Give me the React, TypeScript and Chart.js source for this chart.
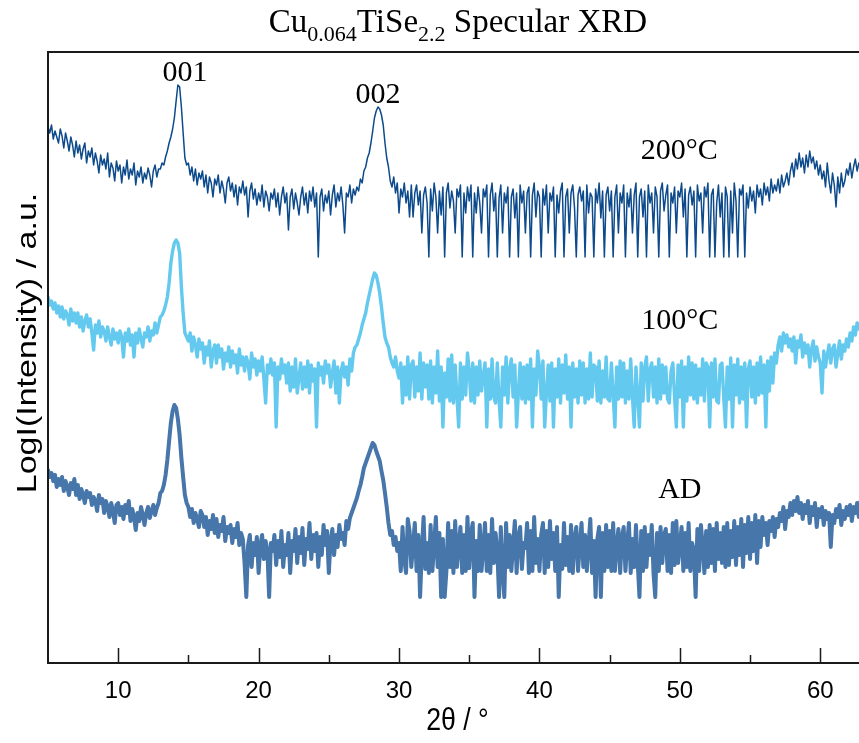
import React, { useEffect, useRef } from 'react';
import { Chart, registerables } from 'chart.js';

Chart.register(...registerables);

// 2θ sampling: start and step (degrees); 8 samples per degree, 5.000 → 62.875
const X_START = 5;
const X_STEP = 0.125;

// Tick labels on the 2θ axis
const xTickValues = [10, 20, 30, 40, 50, 60];
const xMinorTickValues = [15, 25, 35, 45, 55];

// Series names / peak indices
const seriesNames = ['200°C', '100°C', 'AD'];
const peakLabels = ['001', '002'];

// Log(intensity), arbitrary units, offset-stacked as displayed. One row per degree (5°, 6°, ... 62°).
const series200C = [
  536, 530, 538, 524, 532, 526, 520, 534,
  527, 515, 530, 522, 512, 526, 518, 506,
  522, 510, 518, 504, 514, 520, 500, 512,
  506, 515, 498, 510, 502, 490, 508, 498,
  504, 494, 510, 486, 500, 495, 482, 502,
  492, 498, 480, 496, 488, 503, 484, 494,
  488, 500, 478, 492, 486, 496, 480, 490,
  484, 495, 488, 476, 492, 498, 486, 494,
  494, 500, 498, 506, 512, 520, 526, 534,
  545, 562, 578, 576, 556, 530, 505, 498,
  500, 488, 496, 482, 494, 478, 490, 484,
  492, 476, 488, 470, 486, 480, 466, 484,
  478, 488, 470, 482, 474, 460, 480, 486,
  472, 480, 466, 478, 458, 476, 470, 482,
  468, 476, 446, 472, 480, 464, 474, 458,
  470, 462, 478, 456, 472, 466, 452, 470,
  464, 474, 456, 470, 448, 466, 476, 460,
  470, 433, 466, 474, 454, 470, 460, 448,
  466, 476, 458, 470, 450, 472, 462, 476,
  456, 470, 406, 466, 474, 452, 468, 460,
  472, 448, 468, 478, 456, 470, 462, 476,
  458, 430, 470, 466, 478, 460, 474, 468,
  476, 472, 484, 480, 492, 496, 505, 510,
  520, 532, 545, 552, 556, 554, 548, 538,
  520, 505, 496, 482, 476, 486, 470, 480,
  450, 474, 466, 480, 460, 472, 446, 478,
  446, 470, 478, 458, 472, 430, 468, 476,
  460, 406, 474, 452, 480, 466, 430, 472,
  448, 476, 406, 470, 480, 455, 472, 462,
  430, 474, 466, 478, 406, 470, 450, 476,
  462, 478, 406, 470, 450, 476, 460, 430,
  474, 466, 478, 406, 468, 480, 452, 470,
  406, 465, 478, 430, 470, 460, 476, 406,
  466, 474, 445, 470, 406, 478, 460, 472,
  430, 470, 476, 406, 468, 480, 446, 472,
  466, 406, 474, 458, 478, 430, 470, 462,
  476, 406, 468, 450, 472, 480, 406, 466,
  474, 430, 470, 478, 455, 406, 468, 476,
  462, 472, 406, 478, 450, 470, 466, 406,
  474, 460, 480, 445, 472, 406, 468, 476,
  452, 472, 406, 466, 478, 430, 470, 460,
  478, 406, 470, 456, 474, 430, 468, 480,
  406, 466, 474, 446, 472, 406, 478, 460,
  470, 430, 476, 466, 406, 472, 480, 452,
  468, 478, 406, 470, 460, 476, 430, 472,
  466, 480, 446, 474, 406, 468, 476, 458,
  472, 406, 478, 462, 470, 430, 476, 466,
  480, 406, 468, 474, 406, 460, 478, 446,
  470, 406, 476, 466, 406, 472, 430, 480,
  462, 406, 474, 468, 478, 406, 470, 455,
  476, 462, 472, 450, 478, 466, 474, 458,
  480, 468, 476, 462, 484, 470, 478, 472,
  484, 470, 488, 476, 482, 490, 478, 492,
  500, 486, 504, 494, 510, 496, 505, 490,
  508, 496, 512, 500, 506, 494, 502, 488,
  498, 484, 492, 476, 500, 482, 470, 490,
  478, 456, 486, 470, 490, 476, 482, 494,
  488, 500, 485, 496, 504, 492, 500, 498,
];

const series100C = [
  366, 358, 362, 354, 360, 350, 357, 346,
  356, 344, 352, 348, 338, 354, 342, 350,
  340, 350, 336, 346, 332, 342, 348, 336,
  344, 330, 313, 338, 330, 342, 326, 336,
  332, 322, 336, 326, 318, 334, 324, 330,
  320, 332, 326, 306, 330, 322, 334, 318,
  328, 306, 330, 320, 334, 324, 316, 330,
  326, 336, 322, 332, 328, 340, 330, 338,
  346, 348, 352, 358, 366, 380, 400, 412,
  420, 423, 420, 410, 376, 350, 330, 326,
  322, 330, 312, 326, 318, 306, 324, 314,
  320, 300, 316, 308, 322, 296, 312, 318,
  300, 318, 306, 314, 294, 310, 302, 316,
  296, 312, 300, 308, 290, 314, 298, 306,
  292, 306, 300, 284, 310, 296, 304, 288,
  302, 292, 306, 284, 260, 298, 290, 304,
  288, 300, 236, 296, 284, 304, 290, 298,
  280, 300, 272, 296, 276, 304, 270, 286,
  300, 274, 296, 276, 302, 270, 298, 282,
  294, 236, 300, 288, 296, 280, 302, 290,
  298, 276, 290, 302, 270, 296, 260, 292,
  300, 286, 296, 278, 304, 292, 310, 316,
  318, 324, 330, 338, 344, 350, 360, 368,
  376, 384, 390, 388, 380, 370, 356, 340,
  326, 320, 316, 306, 300, 296, 306, 292,
  285, 300, 260, 296, 268, 306, 264, 298,
  302, 266, 296, 272, 310, 264, 300, 276,
  298, 264, 302, 260, 296, 270, 312, 262,
  296, 236, 290, 266, 304, 262, 308, 260,
  298, 266, 236, 300, 264, 296, 268, 310,
  292, 262, 300, 260, 296, 268, 302, 272,
  288, 300, 236, 294, 264, 304, 266, 260,
  300, 262, 236, 296, 268, 306, 260, 294,
  304, 266, 298, 236, 270, 300, 264, 296,
  260, 298, 264, 304, 236, 294, 268, 312,
  296, 264, 302, 236, 270, 298, 262, 300,
  236, 294, 266, 304, 260, 298, 270, 308,
  264, 296, 236, 300, 266, 294, 260, 302,
  268, 300, 260, 294, 264, 310, 266, 298,
  296, 262, 302, 260, 292, 266, 306, 264,
  262, 300, 268, 236, 296, 264, 302, 266,
  300, 260, 292, 264, 304, 266, 236, 296,
  268, 236, 300, 262, 296, 306, 262, 294,
  300, 266, 296, 260, 304, 264, 298, 270,
  296, 264, 260, 292, 300, 266, 236, 298,
  266, 302, 236, 296, 262, 306, 268, 300,
  264, 298, 260, 294, 268, 304, 262, 300,
  296, 236, 300, 266, 304, 262, 260, 298,
  300, 266, 236, 296, 264, 305, 236, 298,
  268, 304, 260, 296, 264, 300, 236, 294,
  302, 266, 296, 260, 300, 268, 306, 270,
  298, 236, 302, 272, 306, 280, 310, 300,
  318, 326, 312, 330, 320, 328, 316, 324,
  312, 326, 300, 322, 316, 328, 306, 320,
  310, 318, 296, 314, 322, 302, 316, 306,
  300, 270, 312, 296, 308, 318, 300, 314,
  318, 296, 310, 322, 304, 318, 312, 324,
  316, 330, 322, 336, 328, 340, 334, 342,
];

const seriesAD = [
  193, 186, 190, 182, 188, 176, 184, 178,
  186, 172, 182, 176, 168, 180, 174, 184,
  168, 178, 164, 174, 168, 160, 172, 166,
  170, 158, 166, 162, 152, 168, 160, 164,
  150, 162, 156, 146, 160, 152, 140, 158,
  160, 148, 156, 144, 158, 150, 162, 142,
  154, 146, 133, 150, 142, 156, 148, 138,
  150, 156, 145, 152, 158, 148, 155, 160,
  170, 172, 178, 188, 203, 222, 240, 252,
  258, 255, 244, 228, 205, 186, 168, 160,
  156, 146, 154, 140, 150, 144, 136, 152,
  148, 136, 146, 128, 142, 134, 148, 130,
  144, 126, 138, 132, 146, 122, 136, 130,
  138, 120, 134, 126, 140, 118, 130, 124,
  100, 66, 118, 128, 96, 120, 108, 126,
  90, 118, 128, 104, 122, 112, 66, 120,
  112, 128, 98, 122, 106, 132, 96, 118,
  108, 130, 90, 122, 112, 134, 100, 126,
  110, 135, 98, 124, 114, 140, 104, 128,
  112, 130, 96, 126, 108, 138, 118, 132,
  90, 122, 134, 108, 128, 116, 138, 124,
  130, 118, 142, 134, 145, 150, 155, 160,
  165, 172, 178, 186, 195, 200, 205, 210,
  215, 220, 218, 212, 207, 202, 192, 183,
  170, 156, 140, 128, 132, 118, 126, 112,
  120, 92, 136, 104, 90, 144, 132, 96,
  118, 140, 92, 128, 66, 112, 146, 94,
  120, 90, 138, 92, 118, 146, 96, 130,
  66, 124, 66, 92, 140, 96, 132, 90,
  142, 96, 118, 136, 90, 128, 92, 146,
  95, 130, 140, 66, 122, 92, 138, 92,
  116, 140, 92, 128, 90, 144, 100, 130,
  112, 66, 136, 92, 66, 140, 96, 128,
  92, 118, 142, 90, 126, 136, 94, 120,
  115, 140, 90, 132, 92, 146, 100, 124,
  92, 128, 140, 90, 132, 96, 142, 104,
  130, 92, 136, 66, 118, 94, 140, 98,
  126, 92, 138, 90, 124, 136, 92, 118,
  140, 96, 128, 92, 118, 144, 90, 122,
  66, 124, 136, 66, 130, 92, 138, 96,
  132, 92, 140, 92, 118, 134, 90, 126,
  136, 92, 120, 140, 90, 124, 96, 138,
  100, 66, 132, 92, 136, 96, 128, 108,
  138, 90, 66, 130, 92, 136, 100, 128,
  134, 92, 128, 90, 140, 98, 142, 100,
  118, 136, 92, 130, 96, 140, 92, 120,
  112, 66, 134, 92, 138, 118, 90, 132,
  96, 138, 100, 134, 92, 140, 104, 130,
  100, 136, 96, 140, 98, 132, 106, 142,
  98, 136, 108, 144, 96, 138, 110, 146,
  104, 140, 112, 148, 100, 142, 116, 146,
  128, 140, 118, 142, 132, 146, 126, 144,
  136, 150, 142, 156, 134, 152, 146, 160,
  148, 162, 152, 166, 150, 160, 144, 158,
  150, 162, 140, 156, 148, 160, 136, 154,
  146, 156, 138, 152, 144, 150, 116, 148,
  140, 154, 146, 158, 138, 152, 144, 156,
  148, 158, 142, 156, 150, 160, 146, 162,
];

// Label anchors in data coordinates [2θ, value]
const peakLabelAt = [[14.76, 590], [28.5, 568]];
const seriesLabelAt = [[49.95, 512], [50.0, 342], [50.0, 173]];

const SERIF = "'Liberation Serif', 'Times New Roman', serif";
const SANS = "'Liberation Sans', Arial, sans-serif";

const COLORS = ['#0c4a8b', '#63c9ee', '#4676aa'];
const WIDTHS = [1.5, 3.4, 4.0];

const toPoints = (vals: number[]) => vals.map((v, i) => ({ x: X_START + i * X_STEP, y: v }));

const framePlugin = {
  id: 'frame',
  afterDraw(chart: any) {
    const ctx = chart.ctx as CanvasRenderingContext2D;
    const { left, right, top, bottom } = chart.chartArea;
    const xs = chart.scales.x;
    const ys = chart.scales.y;
    ctx.save();
    ctx.strokeStyle = '#1a1a1a';
    ctx.lineWidth = 2;
    ctx.lineCap = 'square';
    ctx.beginPath();
    ctx.moveTo(right + 2, top);
    ctx.lineTo(left, top);
    ctx.lineTo(left, bottom);
    ctx.lineTo(right + 2, bottom);
    ctx.stroke();
    ctx.lineCap = 'butt';
    ctx.lineWidth = 1.5;
    ctx.beginPath();
    xTickValues.forEach((v) => {
      const px = Math.round(xs.getPixelForValue(v)) + 0.5;
      ctx.moveTo(px, bottom);
      ctx.lineTo(px, bottom - 15);
    });
    xMinorTickValues.forEach((v) => {
      const px = Math.round(xs.getPixelForValue(v)) + 0.5;
      ctx.moveTo(px, bottom);
      ctx.lineTo(px, bottom - 8);
    });
    ctx.stroke();

    ctx.fillStyle = '#000';
    // title with subscripts
    const parts: [string, boolean][] = [['Cu', false], ['0.064', true], ['TiSe', false], ['2.2', true], [' Specular XRD', false]];
    const big = `33px ${SERIF}`;
    const small = `22px ${SERIF}`;
    let total = 0;
    parts.forEach(([t, s]) => { ctx.font = s ? small : big; total += ctx.measureText(t).width; });
    let x = 458 - total / 2;
    ctx.textAlign = 'left';
    ctx.textBaseline = 'alphabetic';
    parts.forEach(([t, s]) => {
      ctx.font = s ? small : big;
      ctx.fillText(t, x, s ? 41 : 32);
      x += ctx.measureText(t).width;
    });

    // peak and series labels
    ctx.textAlign = 'center';
    ctx.textBaseline = 'middle';
    ctx.font = `30px ${SERIF}`;
    peakLabels.forEach((t, i) => {
      ctx.fillText(t, xs.getPixelForValue(peakLabelAt[i][0]), ys.getPixelForValue(peakLabelAt[i][1]));
    });
    seriesNames.forEach((t, i) => {
      ctx.fillText(t, xs.getPixelForValue(seriesLabelAt[i][0]), ys.getPixelForValue(seriesLabelAt[i][1]));
    });

    // axis titles
    ctx.font = `34px ${SANS}`;
    ctx.save();
    ctx.translate(28, 343);
    ctx.scale(0.82, 1);
    ctx.rotate(-Math.PI / 2);
    ctx.fillText('LogI(Intensity) / a.u.', 0, 0);
    ctx.restore();

    ctx.save();
    ctx.font = `31px ${SANS}`;
    ctx.translate((left + right) / 2 + 4, 721);
    ctx.scale(0.86, 1);
    ctx.fillText('2θ / °', 0, 0);
    ctx.restore();
    ctx.restore();
  },
};

export default function App() {
  const ref = useRef<HTMLCanvasElement | null>(null);
  useEffect(() => {
    if (!ref.current) return;
    const chart = new Chart(ref.current, {
      type: 'line',
      data: {
        datasets: [series200C, series100C, seriesAD].map((vals, i) => ({
          label: seriesNames[i],
          data: toPoints(vals),
          borderColor: COLORS[i],
          backgroundColor: COLORS[i],
          borderWidth: WIDTHS[i],
          borderJoinStyle: 'round',
          borderCapStyle: 'round',
          pointRadius: 0,
          tension: 0,
          fill: false,
        })),
      },
      options: {
        responsive: false,
        animation: false,
        devicePixelRatio: 1,
        layout: { padding: { left: 48, top: 52, right: 0, bottom: 0 } },
        plugins: { legend: { display: false }, tooltip: { enabled: false }, title: { display: false } },
        scales: {
          x: {
            type: 'linear',
            min: 5,
            max: 62.76,
            grid: { display: false, drawTicks: false },
            border: { display: false },
            afterBuildTicks: (axis: any) => { axis.ticks = xTickValues.map((v) => ({ value: v })); },
            afterFit: (axis: any) => { axis.height = 80; },
            ticks: {
              autoSkip: false,
              maxRotation: 0,
              padding: 14,
              color: '#000',
              font: { family: SANS, size: 24 },
            },
          },
          y: { display: false, min: 0, max: 611 },
        },
      } as any,
      plugins: [framePlugin],
    });
    return () => chart.destroy();
  }, []);
  return (
    <div style={{ position: 'absolute', left: 0, top: 0, width: 859, height: 743, background: '#fff' }}>
      <canvas ref={ref} width={859} height={743} style={{ display: 'block' }} />
    </div>
  );
}
